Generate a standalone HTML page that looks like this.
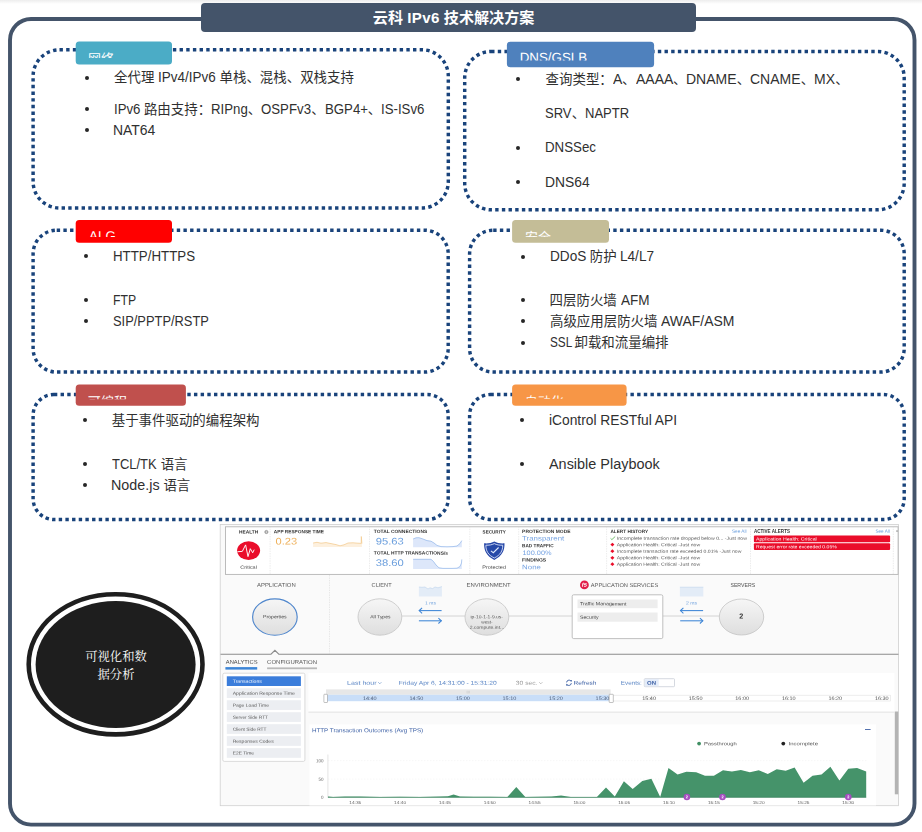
<!DOCTYPE html>
<html lang="zh">
<head>
<meta charset="utf-8">
<title>云科 IPv6 技术解决方案</title>
<style>
html,body{margin:0;padding:0;background:#fff;}
body{width:922px;height:832px;overflow:hidden;position:relative;font-family:"Liberation Sans","Noto Sans CJK SC",sans-serif;}
#page{position:absolute;left:0;top:0;width:922px;height:832px;overflow:hidden;background:#fff;}
#topshade{position:absolute;left:0;top:0;width:922px;height:4px;background:linear-gradient(#ededed,#fff);}
svg.shapes{position:absolute;left:0;top:0;}
#title{position:absolute;left:201.2px;top:3.2px;width:494.5px;height:29.1px;background:#44546a;border-radius:4px;color:#fff;font-weight:bold;font-size:15.1px;line-height:28.8px;white-space:pre;}
#title span{position:absolute;left:171.6px;top:0.6px;}
#title em{font-style:normal;letter-spacing:0.35px;}
.t{position:absolute;white-space:pre;font-size:13.45px;line-height:20px;height:20px;color:#303030;}
.bu{position:absolute;width:4px;height:4px;border-radius:50%;background:#262626;}
.t span.sx{display:inline-block;transform-origin:0 50%;font-size:14px;line-height:0;}
#oval{position:absolute;left:36px;top:601px;width:160px;height:127px;color:#fff;font-family:"Liberation Serif","Noto Serif CJK SC",serif;font-size:12.3px;line-height:18.2px;text-align:center;}
</style>
</head>
<body>
<div id="page">
<div id="topshade"></div>
<svg class="shapes" width="922" height="832" viewBox="0 0 922 832">
  <rect x="10" y="19" width="904.5" height="805.6" rx="21" ry="21" fill="none" stroke="#44546a" stroke-width="3.9"/>
  <g fill="none" stroke="#19437b" stroke-width="3.45" stroke-dasharray="3.4 3.27">
    <rect x="33.1" y="49.8" width="415.2" height="158.2" rx="26.4" ry="26.4"/>
    <rect x="464.7" y="51.5" width="439.5" height="158.3" rx="26.4" ry="26.4"/>
    <rect x="33.1" y="230.2" width="415.1" height="141.9" rx="23.6" ry="23.6"/>
    <rect x="469.6" y="230.2" width="434.6" height="141.9" rx="23.6" ry="23.6"/>
    <rect x="33.1" y="394.5" width="415.1" height="125" rx="20.8" ry="20.8"/>
    <rect x="469.6" y="394.5" width="434.6" height="125" rx="20.8" ry="20.8"/>
  </g>
  <ellipse cx="115.6" cy="664.3" rx="86.9" ry="70.1" fill="#fff" stroke="#1e1e1e" stroke-width="4.6"/>
  <ellipse cx="115.6" cy="664.5" rx="80" ry="63.4" fill="#1e1e1e"/>
</svg>
<div id="title"><span>云科 <em>IPv6</em> 技术解决方案</span></div>

<svg class="shapes" id="labs" width="922" height="832" viewBox="0 0 922 832" font-family='"Liberation Sans","Noto Sans CJK SC",sans-serif'>
<defs>
<clipPath id="lc0"><rect x="75.7" y="41.6" width="96.3" height="16.40"/></clipPath>
<clipPath id="lc1"><rect x="506.9" y="41.7" width="147.2" height="18.90"/></clipPath>
<clipPath id="lc2"><rect x="75.7" y="220.1" width="96.3" height="16.80"/></clipPath>
<clipPath id="lc3"><rect x="512.1" y="220.1" width="96.9" height="16.90"/></clipPath>
<clipPath id="lc4"><rect x="75.7" y="384.6" width="110.2" height="14.60"/></clipPath>
<clipPath id="lc5"><rect x="512.1" y="384.6" width="114.5" height="14.20"/></clipPath>
</defs>
<rect x="75.7" y="41.6" width="96.3" height="23.0" rx="3.5" fill="#4bacc6"/>
<g clip-path="url(#lc0)"><text x="88.03" y="63.30" font-size="13.0" fill="#fff" transform="matrix(1 0.0005 0 1 0 -0.044)">网络</text></g>
<rect x="506.9" y="41.7" width="147.2" height="25.5" rx="3.5" fill="#4f81bd"/>
<g clip-path="url(#lc1)"><text x="519.73" y="62.05" font-size="13.33" fill="#fff" transform="matrix(1 0.0005 0 1 0 -0.260)">DNS/GSLB</text></g>
<rect x="75.7" y="220.1" width="96.3" height="22.7" rx="3.5" fill="#ff0000"/>
<g clip-path="url(#lc2)"><text x="89.13" y="240.45" font-size="13.33" fill="#fff" transform="matrix(1 0.0005 0 1 0 -0.045)">ALG</text></g>
<rect x="512.1" y="220.1" width="96.9" height="22.7" rx="3.5" fill="#c4bd97"/>
<g clip-path="url(#lc3)"><text x="525.09" y="241.80" font-size="13.0" fill="#fff" transform="matrix(1 0.0005 0 1 0 -0.263)">安全</text></g>
<rect x="75.7" y="384.6" width="110.2" height="21.2" rx="3.5" fill="#c0504d"/>
<g clip-path="url(#lc4)"><text x="87.88" y="406.30" font-size="13.0" fill="#fff" transform="matrix(1 0.0005 0 1 0 -0.044)">可编程</text></g>
<rect x="512.1" y="384.6" width="114.5" height="21.2" rx="3.5" fill="#f79646"/>
<g clip-path="url(#lc5)"><text x="524.86" y="406.30" font-size="13.0" fill="#fff" transform="matrix(1 0.0005 0 1 0 -0.262)">自动化</text></g>
</svg>

<span class="bu" style="left:84.5px;top:75.5px"></span><div class="t" style="left:114.05px;top:68.00px;">全代理 <span class="sx" style="transform:scaleX(0.9626);margin-right:-2.24px">IPv4/IPv6</span> 单栈、混栈、双栈支持</div>
<span class="bu" style="left:84.5px;top:107.0px"></span><div class="t" style="left:113.70px;top:100.00px;"><span class="sx" style="transform:scaleX(0.9448);margin-right:-1.55px">IPv6</span> 路由支持：<span class="sx" style="transform:scaleX(0.9448);margin-right:-2.15px">RIPng</span>、<span class="sx" style="transform:scaleX(0.9448);margin-right:-2.92px">OSPFv3</span>、<span class="sx" style="transform:scaleX(0.9448);margin-right:-2.51px">BGP4+</span>、<span class="sx" style="transform:scaleX(0.9448);margin-right:-2.53px">IS-ISv6</span></div>
<span class="bu" style="left:84.5px;top:128.0px"></span><div class="t" style="left:113.41px;top:121.00px;"><span class="sx" style="transform:scaleX(0.9962);margin-right:-0.16px">NAT64</span></div>
<span class="bu" style="left:515.5px;top:77.0px"></span><div class="t" style="left:545.57px;top:70.00px;">查询类型：<span class="sx" style="transform:scaleX(0.9986);margin-right:-0.01px">A</span>、<span class="sx" style="transform:scaleX(0.9986);margin-right:-0.05px">AAAA</span>、<span class="sx" style="transform:scaleX(0.9986);margin-right:-0.07px">DNAME</span>、<span class="sx" style="transform:scaleX(0.9986);margin-right:-0.07px">CNAME</span>、<span class="sx" style="transform:scaleX(0.9986);margin-right:-0.03px">MX</span>、</div>
<div class="t" style="left:545.17px;top:104.00px;"><span class="sx" style="transform:scaleX(0.9304);margin-right:-1.99px">SRV</span>、<span class="sx" style="transform:scaleX(0.9304);margin-right:-3.30px">NAPTR</span></div>
<span class="bu" style="left:515.5px;top:145.5px"></span><div class="t" style="left:544.54px;top:138.00px;"><span class="sx" style="transform:scaleX(0.9494);margin-right:-2.72px">DNSSec</span></div>
<span class="bu" style="left:515.5px;top:180.0px"></span><div class="t" style="left:544.51px;top:173.00px;"><span class="sx" style="transform:scaleX(0.9888);margin-right:-0.51px">DNS64</span></div>
<span class="bu" style="left:83.5px;top:254.0px"></span><div class="t" style="left:112.76px;top:247.00px;"><span class="sx" style="transform:scaleX(0.9502);margin-right:-4.30px">HTTP/HTTPS</span></div>
<span class="bu" style="left:83.5px;top:298.0px"></span><div class="t" style="left:112.94px;top:291.00px;"><span class="sx" style="transform:scaleX(0.8748);margin-right:-3.31px">FTP</span></div>
<span class="bu" style="left:83.5px;top:319.0px"></span><div class="t" style="left:112.77px;top:312.00px;"><span class="sx" style="transform:scaleX(0.9198);margin-right:-8.36px">SIP/PPTP/RSTP</span></div>
<span class="bu" style="left:520.5px;top:254.5px"></span><div class="t" style="left:549.73px;top:247.00px;"><span class="sx" style="transform:scaleX(0.9712);margin-right:-1.07px">DDoS</span> 防护 <span class="sx" style="transform:scaleX(0.9712);margin-right:-1.01px">L4/L7</span></div>
<span class="bu" style="left:520.5px;top:298.0px"></span><div class="t" style="left:549.59px;top:291.00px;">四层防火墙 <span class="sx" style="transform:scaleX(0.9676);margin-right:-0.96px">AFM</span></div>
<span class="bu" style="left:520.5px;top:319.0px"></span><div class="t" style="left:549.96px;top:312.00px;">高级应用层防火墙 <span class="sx" style="transform:scaleX(0.9975);margin-right:-0.19px">AWAF/ASM</span></div>
<span class="bu" style="left:520.5px;top:340.5px"></span><div class="t" style="left:549.93px;top:333.00px;word-spacing:-1.4px;"><span class="sx" style="transform:scaleX(0.8397);margin-right:-4.24px">SSL</span> 卸载和流量编排</div>
<span class="bu" style="left:82.5px;top:417.5px"></span><div class="t" style="left:111.73px;top:411.00px;">基于事件驱动的编程架构</div>
<span class="bu" style="left:82.5px;top:462.0px"></span><div class="t" style="left:112.30px;top:455.00px;"><span class="sx" style="transform:scaleX(0.9257);margin-right:-3.58px">TCL/TK</span> 语言</div>
<span class="bu" style="left:82.5px;top:482.5px"></span><div class="t" style="left:111.10px;top:476.00px;"><span class="sx" style="transform:scaleX(1.0234);margin-right:1.11px">Node.js</span> 语言</div>
<span class="bu" style="left:519.5px;top:418.0px"></span><div class="t" style="left:549.41px;top:411.00px;"><span class="sx" style="transform:scaleX(0.9850);margin-right:-1.95px">iControl RESTful API</span></div>
<span class="bu" style="left:519.5px;top:462.0px"></span><div class="t" style="left:548.80px;top:455.00px;"><span class="sx" style="transform:scaleX(1.0304);margin-right:3.27px">Ansible Playbook</span></div>

<div id="oval"><div style="position:absolute;left:0;right:0;top:46.5px">可视化和数<br>据分析</div></div>

<svg id="dash" class="shapes" width="922" height="832" viewBox="0 0 922 832" font-family='"Liberation Sans","DejaVu Sans",sans-serif'>
<defs>
<filter id="bl" x="-2%" y="-2%" width="104%" height="104%"><feGaussianBlur stdDeviation="0.32"/></filter>
<linearGradient id="eg" x1="0" y1="0" x2="0" y2="1"><stop offset="0" stop-color="#f6f6f6"/><stop offset="1" stop-color="#dedede"/></linearGradient>
<clipPath id="dc"><rect x="219.7" y="524" width="679.3" height="282.2"/></clipPath>
</defs>
<g clip-path="url(#dc)"><g filter="url(#bl)">
<rect x="220.2" y="524.5" width="678.3" height="281.2" fill="#fafafa" stroke="#d0d0d0" stroke-width="0.8"/>
<rect x="225.5" y="526.8" width="672.6" height="47.6" fill="#fff" stroke="#b4b4b4" stroke-width="0.9"/>
<line x1="270.1" y1="527.5" x2="270.1" y2="574" stroke="#d9d9d9" stroke-width="0.7" stroke-dasharray="0.7 1"/>
<line x1="369.5" y1="527.5" x2="369.5" y2="574" stroke="#d9d9d9" stroke-width="0.7" stroke-dasharray="0.7 1"/>
<line x1="469.8" y1="527.5" x2="469.8" y2="574" stroke="#d9d9d9" stroke-width="0.7" stroke-dasharray="0.7 1"/>
<line x1="518.7" y1="527.5" x2="518.7" y2="574" stroke="#d9d9d9" stroke-width="0.7" stroke-dasharray="0.7 1"/>
<line x1="606.6" y1="527.5" x2="606.6" y2="574" stroke="#d9d9d9" stroke-width="0.7" stroke-dasharray="0.7 1"/>
<line x1="750.5" y1="527.5" x2="750.5" y2="574" stroke="#d9d9d9" stroke-width="0.7" stroke-dasharray="0.7 1"/>
<line x1="893.3" y1="527.5" x2="893.3" y2="574" stroke="#d9d9d9" stroke-width="0.7" stroke-dasharray="0.7 1"/>
<text x="239.0" y="533.40" font-size="4.7" fill="#333" font-weight="bold" text-anchor="start" textLength="19.2" lengthAdjust="spacingAndGlyphs" transform="matrix(1 0.0005 0 1 0 -0.120)">HEALTH</text>
<circle cx="266.4" cy="532" r="1.6" fill="#b5b5b5" stroke="#8a8a8a" stroke-width="0.7"/><circle cx="266.4" cy="532" r="0.6" fill="#f3f3f3"/>
<ellipse cx="248.6" cy="550.6" rx="11.5" ry="9.3" fill="#ea0c2a"/>
<polyline points="237.8,551.7 242.3,551.4 245.6,544.9 248,556.6 250.3,548.7 252.7,552.8 254,550" fill="none" stroke="#fff" stroke-width="1" stroke-linejoin="round" stroke-linecap="round" opacity="0.95"/>
<text x="240.2" y="568.86" font-size="4.6" fill="#444" font-weight="normal" text-anchor="start" textLength="16.7" lengthAdjust="spacingAndGlyphs" transform="matrix(1 0.0005 0 1 0 -0.120)">Critical</text>
<text x="273.8" y="533.30" font-size="4.7" fill="#333" font-weight="bold" text-anchor="start" textLength="50.2" lengthAdjust="spacingAndGlyphs" transform="matrix(1 0.0005 0 1 0 -0.137)">APP RESPONSE TIME</text>
<text x="275.6" y="544.44" font-size="9.6" fill="#eeb05a" font-weight="normal" text-anchor="start" textLength="21.6" lengthAdjust="spacingAndGlyphs" transform="matrix(1 0.0005 0 1 0 -0.138)">0.23</text>
<path d="M313.1,543 L317,542.3 L321,543.2 L326,542.6 L331,543.6 L336,544.6 L340,545.8 L344,544.8 L348,543 L353,542.8 L358,543.2 L361.2,543.4 L361.3,536.5 L361.9,543.6 L361.9,547 L313.1,547 Z" fill="#fdf0de"/>
<polyline points="313.1,543 317,542.3 321,543.2 326,542.6 331,543.6 336,544.6 340,545.8 344,544.8 348,543 353,542.8 358,543.2 361.2,543.4 361.3,536.5 361.9,543.6" fill="none" stroke="#f2c788" stroke-width="0.7"/>
<text x="373.8" y="533.10" font-size="4.7" fill="#333" font-weight="bold" text-anchor="start" textLength="53.4" lengthAdjust="spacingAndGlyphs" transform="matrix(1 0.0005 0 1 0 -0.187)">TOTAL CONNECTIONS</text>
<text x="375.7" y="544.44" font-size="9.6" fill="#6a9edd" font-weight="normal" text-anchor="start" textLength="28.1" lengthAdjust="spacingAndGlyphs" transform="matrix(1 0.0005 0 1 0 -0.188)">95.63</text>
<text x="373.8" y="554.60" font-size="4.7" fill="#333" font-weight="bold" text-anchor="start" textLength="74.2" lengthAdjust="spacingAndGlyphs" transform="matrix(1 0.0005 0 1 0 -0.187)">TOTAL HTTP TRANSACTIONS/s</text>
<text x="375.7" y="565.94" font-size="9.6" fill="#6a9edd" font-weight="normal" text-anchor="start" textLength="28.1" lengthAdjust="spacingAndGlyphs" transform="matrix(1 0.0005 0 1 0 -0.188)">38.60</text>
<path d="M413.1,539 L416,537.8 L419,537.7 L423,539 L427,540.6 L431,541.2 L434,543 L437,545.4 L441,546.6 L447,546.8 L453,546.6 L457,546 L460,543.5 L461.8,540.6 L461.8,547.2 L413.1,547.2 Z" fill="#dde7fa"/>
<polyline points="413.1,539 416,537.8 419,537.7 423,539 427,540.6 431,541.2 434,543 437,545.4 441,546.6 447,546.8 453,546.6 457,546 460,543.5 461.8,540.6" fill="none" stroke="#8fb4ea" stroke-width="0.7"/>
<path d="M413.1,559.3 L431,559.3 L433.5,561.5 L436,565 L439,567.8 L443,568.4 L452,568.4 L457,568.2 L460,566.5 L461.5,563 L461.8,559.4 L461.8,568.9 L413.1,568.9 Z" fill="#dde7fa"/>
<polyline points="413.1,559.3 431,559.3 433.5,561.5 436,565 439,567.8 443,568.4 452,568.4 457,568.2 460,566.5 461.5,563 461.8,559.4" fill="none" stroke="#8fb4ea" stroke-width="0.7"/>
<text x="482.6" y="533.40" font-size="4.7" fill="#333" font-weight="bold" text-anchor="start" textLength="23.2" lengthAdjust="spacingAndGlyphs" transform="matrix(1 0.0005 0 1 0 -0.241)">SECURITY</text>
<path d="M494.3,541.5 C491.5,543.2 487.5,543.6 484.1,543.3 C483.8,550.5 486.5,556 494.3,559.9 C502.1,556 504.8,550.5 504.5,543.3 C501.1,543.6 497.1,543.2 494.3,541.5 Z" fill="#2848a8"/>
<path d="M494.3,543.6 C491.9,544.9 488.7,545.4 485.9,545.2 C485.8,550.9 488.2,555 494.3,558 C500.4,555 502.8,550.9 502.7,545.2 C499.9,545.4 496.7,544.9 494.3,543.6 Z" fill="none" stroke="#dfe9fb" stroke-width="0.85"/>
<polyline points="490.9,550.9 493.3,552.7 498.6,547.5" fill="none" stroke="#dfeafc" stroke-width="1.1"/>
<text x="482.3" y="568.86" font-size="4.6" fill="#444" font-weight="normal" text-anchor="start" textLength="23.7" lengthAdjust="spacingAndGlyphs" transform="matrix(1 0.0005 0 1 0 -0.241)">Protected</text>
<text x="522.1" y="533.10" font-size="4.7" fill="#333" font-weight="bold" text-anchor="start" textLength="48.4" lengthAdjust="spacingAndGlyphs" transform="matrix(1 0.0005 0 1 0 -0.261)">PROTECTION MODE</text>
<text x="522.1" y="540.55" font-size="6.5" fill="#76a3e2" font-weight="normal" text-anchor="start" textLength="42.1" lengthAdjust="spacingAndGlyphs" transform="matrix(1 0.0005 0 1 0 -0.261)">Transparent</text>
<text x="522.1" y="547.30" font-size="4.7" fill="#333" font-weight="bold" text-anchor="start" textLength="31.5" lengthAdjust="spacingAndGlyphs" transform="matrix(1 0.0005 0 1 0 -0.261)">BAD TRAFFIC</text>
<text x="522.5" y="554.89" font-size="6.4" fill="#76a3e2" font-weight="normal" text-anchor="start" textLength="29.0" lengthAdjust="spacingAndGlyphs" transform="matrix(1 0.0005 0 1 0 -0.261)">100.00%</text>
<text x="522.1" y="561.60" font-size="4.7" fill="#333" font-weight="bold" text-anchor="start" textLength="24.1" lengthAdjust="spacingAndGlyphs" transform="matrix(1 0.0005 0 1 0 -0.261)">FINDINGS</text>
<text x="522.1" y="569.21" font-size="6.5" fill="#76a3e2" font-weight="normal" text-anchor="start" textLength="18.8" lengthAdjust="spacingAndGlyphs" transform="matrix(1 0.0005 0 1 0 -0.261)">None</text>
<text x="610.4" y="532.90" font-size="4.7" fill="#333" font-weight="bold" text-anchor="start" textLength="37.8" lengthAdjust="spacingAndGlyphs" transform="matrix(1 0.0005 0 1 0 -0.305)">ALERT HISTORY</text>
<text x="731.9" y="532.76" font-size="4.6" fill="#6a9edd" font-weight="normal" text-anchor="start" textLength="14.7" lengthAdjust="spacingAndGlyphs" transform="matrix(1 0.0005 0 1 0 -0.366)">See All</text>
<polyline points="610.6,538.4 611.9,539.6 615.2,536.5" fill="none" stroke="#53b14d" stroke-width="0.8"/>
<text x="616.8" y="539.63" font-size="4.5" fill="#555" font-weight="normal" text-anchor="start" textLength="130.2" lengthAdjust="spacingAndGlyphs" transform="matrix(1 0.0005 0 1 0 -0.308)">Incomplete transaction rate dropped below 0... -Just now</text>
<path d="M612.4,542.7 L614.4,544.6 L612.4,546.5 L610.4,544.6 Z" fill="#ea0c2a"/>
<text x="616.8" y="546.13" font-size="4.5" fill="#555" font-weight="normal" text-anchor="start" textLength="83.3" lengthAdjust="spacingAndGlyphs" transform="matrix(1 0.0005 0 1 0 -0.308)">Application Health: Critical -Just now</text>
<path d="M612.4,549.3000000000001 L614.4,551.2 L612.4,553.1 L610.4,551.2 Z" fill="#ea0c2a"/>
<text x="616.8" y="552.73" font-size="4.5" fill="#555" font-weight="normal" text-anchor="start" textLength="124.6" lengthAdjust="spacingAndGlyphs" transform="matrix(1 0.0005 0 1 0 -0.308)">Incomplete transaction rate exceeded 0.01% -Just now</text>
<path d="M612.4,555.9 L614.4,557.8 L612.4,559.6999999999999 L610.4,557.8 Z" fill="#ea0c2a"/>
<text x="616.8" y="559.33" font-size="4.5" fill="#555" font-weight="normal" text-anchor="start" textLength="83.3" lengthAdjust="spacingAndGlyphs" transform="matrix(1 0.0005 0 1 0 -0.308)">Application Health: Critical -Just now</text>
<path d="M612.4,562.3000000000001 L614.4,564.2 L612.4,566.1 L610.4,564.2 Z" fill="#ea0c2a"/>
<text x="616.8" y="565.73" font-size="4.5" fill="#555" font-weight="normal" text-anchor="start" textLength="83.3" lengthAdjust="spacingAndGlyphs" transform="matrix(1 0.0005 0 1 0 -0.308)">Application Health: Critical -Just now</text>
<text x="753.9" y="532.90" font-size="4.7" fill="#333" font-weight="bold" text-anchor="start" textLength="36.1" lengthAdjust="spacingAndGlyphs" transform="matrix(1 0.0005 0 1 0 -0.377)">ACTIVE ALERTS</text>
<text x="875.4" y="532.76" font-size="4.6" fill="#6a9edd" font-weight="normal" text-anchor="start" textLength="14.4" lengthAdjust="spacingAndGlyphs" transform="matrix(1 0.0005 0 1 0 -0.438)">See All</text>
<rect x="753.9" y="535.5" width="136.2" height="6.8" rx="1" fill="#ea0c2a"/>
<rect x="753.9" y="543.3" width="136.2" height="6.6" rx="1" fill="#ea0c2a"/>
<text x="756.0" y="540.53" font-size="4.5" fill="#fff" font-weight="normal" text-anchor="start" textLength="60.7" lengthAdjust="spacingAndGlyphs" transform="matrix(1 0.0005 0 1 0 -0.378)">Application Health: Critical</text>
<text x="756.0" y="548.23" font-size="4.5" fill="#fff" font-weight="normal" text-anchor="start" textLength="80.8" lengthAdjust="spacingAndGlyphs" transform="matrix(1 0.0005 0 1 0 -0.378)">Request error rate exceeded 0.05%</text>
<path d="M896,531.6 L897,530 L898,531.6 Z" fill="#777"/>
<line x1="329.5" y1="575" x2="329.5" y2="653.5" stroke="#d6d6d6" stroke-width="0.7" stroke-dasharray="0.7 1"/>
<text x="257.0" y="586.73" font-size="5.4" fill="#555" font-weight="normal" text-anchor="start" textLength="38.7" lengthAdjust="spacingAndGlyphs" transform="matrix(1 0.0005 0 1 0 -0.129)">APPLICATION</text>
<text x="371.6" y="586.73" font-size="5.4" fill="#555" font-weight="normal" text-anchor="start" textLength="20.0" lengthAdjust="spacingAndGlyphs" transform="matrix(1 0.0005 0 1 0 -0.186)">CLIENT</text>
<text x="466.5" y="586.73" font-size="5.4" fill="#555" font-weight="normal" text-anchor="start" textLength="44.2" lengthAdjust="spacingAndGlyphs" transform="matrix(1 0.0005 0 1 0 -0.233)">ENVIRONMENT</text>
<text x="590.8" y="586.93" font-size="5.4" fill="#555" font-weight="normal" text-anchor="start" textLength="67.4" lengthAdjust="spacingAndGlyphs" transform="matrix(1 0.0005 0 1 0 -0.295)">APPLICATION SERVICES</text>
<text x="730.4" y="586.73" font-size="5.4" fill="#555" font-weight="normal" text-anchor="start" textLength="24.9" lengthAdjust="spacingAndGlyphs" transform="matrix(1 0.0005 0 1 0 -0.365)">SERVERS</text>
<line x1="402" y1="616" x2="465" y2="616" stroke="#cfcfcf" stroke-width="0.9"/>
<line x1="509" y1="616" x2="572" y2="616" stroke="#cfcfcf" stroke-width="0.9"/>
<line x1="662.8" y1="616" x2="719.2" y2="616" stroke="#cfcfcf" stroke-width="0.9"/>
<ellipse cx="274.9" cy="617" rx="22.3" ry="18.2" fill="url(#eg)" stroke="#4f86cc" stroke-width="1.15"/>
<ellipse cx="379.9" cy="617" rx="21.9" ry="18.2" fill="url(#eg)" stroke="#c4c4c4" stroke-width="0.8"/>
<ellipse cx="486.9" cy="617" rx="21.9" ry="18.2" fill="url(#eg)" stroke="#c4c4c4" stroke-width="0.8"/>
<ellipse cx="741.5" cy="617" rx="22.2" ry="18" fill="url(#eg)" stroke="#c4c4c4" stroke-width="0.8"/>
<text x="263.0" y="618.13" font-size="4.5" fill="#444" font-weight="normal" text-anchor="start" textLength="23.7" lengthAdjust="spacingAndGlyphs" transform="matrix(1 0.0005 0 1 0 -0.132)">Properties</text>
<text x="370.3" y="618.23" font-size="4.5" fill="#444" font-weight="normal" text-anchor="start" textLength="20.1" lengthAdjust="spacingAndGlyphs" transform="matrix(1 0.0005 0 1 0 -0.185)">All Types</text>
<text x="470.5" y="618.36" font-size="4.3" fill="#555" font-weight="normal" text-anchor="start" textLength="32.5" lengthAdjust="spacingAndGlyphs" transform="matrix(1 0.0005 0 1 0 -0.235)">ip-10-1-1-9.us-</text>
<text x="481.2" y="623.56" font-size="4.3" fill="#555" font-weight="normal" text-anchor="start" textLength="11.4" lengthAdjust="spacingAndGlyphs" transform="matrix(1 0.0005 0 1 0 -0.241)">west-</text>
<text x="469.8" y="628.76" font-size="4.3" fill="#555" font-weight="normal" text-anchor="start" textLength="34.5" lengthAdjust="spacingAndGlyphs" transform="matrix(1 0.0005 0 1 0 -0.235)">2.compute.int...</text>
<text x="741.3" y="618.60" font-size="7.2" fill="#333" font-weight="bold" text-anchor="middle" transform="matrix(1 0.0005 0 1 0 -0.371)">2</text>
<path d="M418.9,587 L422,587.3 L425,587 L428,589 L430,587.8 L432.5,588.6 L435,587 L438,587.8 L441.9,586.6 L441.9,596.5 L418.9,596.5 Z" fill="#e3ecf7"/>
<polyline points="418.9,587 422,587.3 425,587 428,589 430,587.8 432.5,588.6 435,587 438,587.8 441.9,586.6" fill="none" stroke="#bdd3ec" stroke-width="0.6"/>
<rect x="679.9" y="587.2" width="23.4" height="9.3" fill="#e3ecf7"/><line x1="679.9" y1="587.2" x2="703.3" y2="587.2" stroke="#bdd3ec" stroke-width="0.6"/>
<text x="425.1" y="604.53" font-size="4.5" fill="#6a9edd" font-weight="normal" text-anchor="start" textLength="10.8" lengthAdjust="spacingAndGlyphs" transform="matrix(1 0.0005 0 1 0 -0.213)">1 ms</text>
<text x="685.9" y="604.53" font-size="4.5" fill="#6a9edd" font-weight="normal" text-anchor="start" textLength="11.1" lengthAdjust="spacingAndGlyphs" transform="matrix(1 0.0005 0 1 0 -0.343)">2 ms</text>
<g fill="none" stroke="#3d85d6" stroke-width="1.05"><line x1="418.9" y1="610.6" x2="441.6" y2="610.6"/><polyline points="422.09999999999997,607.9 419.2,610.6 422.09999999999997,613.3"/><line x1="418.9" y1="620.8" x2="441.6" y2="620.8"/><polyline points="438.40000000000003,618.1 441.3,620.8 438.40000000000003,623.5"/></g>
<g fill="none" stroke="#3d85d6" stroke-width="1.05"><line x1="680.2" y1="610.6" x2="703.1" y2="610.6"/><polyline points="683.4000000000001,607.9 680.5,610.6 683.4000000000001,613.3"/><line x1="680.2" y1="620.8" x2="703.1" y2="620.8"/><polyline points="699.9,618.1 702.8000000000001,620.8 699.9,623.5"/></g>
<circle cx="584.4" cy="584.9" r="4.4" fill="#e21d48"/>
<text x="584.3" y="586.80" font-size="5.6" fill="#fff" font-weight="bold" text-anchor="middle" font-style="italic" transform="matrix(1 0.0005 0 1 0 -0.292)">f5</text>
<rect x="572.2" y="594.8" width="90.6" height="43.8" rx="1.5" fill="#fff" stroke="#b9b9b9" stroke-width="0.9"/>
<rect x="577.5" y="599.5" width="80.1" height="8.7" fill="#ededed"/>
<rect x="577.5" y="612.5" width="80.1" height="9.2" fill="#ededed"/>
<text x="580.1" y="605.36" font-size="4.6" fill="#444" font-weight="normal" text-anchor="start" textLength="46.3" lengthAdjust="spacingAndGlyphs" transform="matrix(1 0.0005 0 1 0 -0.290)">Traffic Management</text>
<text x="580.1" y="618.76" font-size="4.6" fill="#444" font-weight="normal" text-anchor="start" textLength="18.5" lengthAdjust="spacingAndGlyphs" transform="matrix(1 0.0005 0 1 0 -0.290)">Security</text>
<path d="M220.5,654.2 L271,654.2 L274.9,650.3 L278.8,654.2 L898.5,654.2" fill="none" stroke="#8c8c8c" stroke-width="1.1"/>
<text x="225.8" y="663.87" font-size="5.5" fill="#444" font-weight="normal" text-anchor="start" textLength="31.7" lengthAdjust="spacingAndGlyphs" transform="matrix(1 0.0005 0 1 0 -0.113)">ANALYTICS</text>
<text x="267.1" y="663.87" font-size="5.5" fill="#555" font-weight="normal" text-anchor="start" textLength="49.9" lengthAdjust="spacingAndGlyphs" transform="matrix(1 0.0005 0 1 0 -0.134)">CONFIGURATION</text>
<rect x="225.4" y="667.1" width="31.8" height="2.5" fill="#3d85d6"/>
<rect x="267.1" y="667.4" width="49.9" height="1.8" fill="#b9b9b9"/>
<rect x="222.8" y="673.2" width="82.1" height="88.2" rx="1.5" fill="#fff" stroke="#d2d2d2" stroke-width="0.8"/>
<rect x="226.8" y="676.30" width="74.1" height="9.7" fill="#3b7ddb"/>
<text x="232.7" y="682.80" font-size="4.4" fill="#fff" font-weight="normal" text-anchor="start" textLength="29.2" lengthAdjust="spacingAndGlyphs" transform="matrix(1 0.0005 0 1 0 -0.116)">Transactions</text>
<rect x="226.8" y="688.27" width="74.1" height="9.7" fill="#eceef2"/>
<text x="232.7" y="694.77" font-size="4.4" fill="#555" font-weight="normal" text-anchor="start" textLength="62.1" lengthAdjust="spacingAndGlyphs" transform="matrix(1 0.0005 0 1 0 -0.116)">Application Response Time</text>
<rect x="226.8" y="700.24" width="74.1" height="9.7" fill="#eceef2"/>
<text x="232.7" y="706.74" font-size="4.4" fill="#555" font-weight="normal" text-anchor="start" textLength="36.3" lengthAdjust="spacingAndGlyphs" transform="matrix(1 0.0005 0 1 0 -0.116)">Page Load Time</text>
<rect x="226.8" y="712.21" width="74.1" height="9.7" fill="#eceef2"/>
<text x="232.7" y="718.71" font-size="4.4" fill="#555" font-weight="normal" text-anchor="start" textLength="35.3" lengthAdjust="spacingAndGlyphs" transform="matrix(1 0.0005 0 1 0 -0.116)">Server Side RTT</text>
<rect x="226.8" y="724.18" width="74.1" height="9.7" fill="#eceef2"/>
<text x="232.7" y="730.68" font-size="4.4" fill="#555" font-weight="normal" text-anchor="start" textLength="33.8" lengthAdjust="spacingAndGlyphs" transform="matrix(1 0.0005 0 1 0 -0.116)">Client Side RTT</text>
<rect x="226.8" y="736.15" width="74.1" height="9.7" fill="#eceef2"/>
<text x="232.7" y="742.65" font-size="4.4" fill="#555" font-weight="normal" text-anchor="start" textLength="41.0" lengthAdjust="spacingAndGlyphs" transform="matrix(1 0.0005 0 1 0 -0.116)">Responses Codes</text>
<rect x="226.8" y="748.12" width="74.1" height="9.7" fill="#eceef2"/>
<text x="232.7" y="754.62" font-size="4.4" fill="#555" font-weight="normal" text-anchor="start" textLength="21.3" lengthAdjust="spacingAndGlyphs" transform="matrix(1 0.0005 0 1 0 -0.116)">E2E Time</text>
<rect x="308.4" y="672.9" width="586" height="39.2" fill="#fff"/><line x1="308.4" y1="712.1" x2="894.4" y2="712.1" stroke="#dcdcdc" stroke-width="0.8"/>
<text x="347.1" y="684.70" font-size="5.6" fill="#5b86c5" font-weight="normal" text-anchor="start" textLength="29.4" lengthAdjust="spacingAndGlyphs" transform="matrix(1 0.0005 0 1 0 -0.174)">Last hour</text>
<polyline points="378.2,682.2 379.8,683.8 381.4,682.2" fill="none" stroke="#5b86c5" stroke-width="0.6"/>
<text x="398.7" y="684.70" font-size="5.6" fill="#5b86c5" font-weight="normal" text-anchor="start" textLength="98.0" lengthAdjust="spacingAndGlyphs" transform="matrix(1 0.0005 0 1 0 -0.199)">Friday Apr 6, 14:31:00 - 15:31:20</text>
<text x="515.8" y="684.70" font-size="5.6" fill="#9a9a9a" font-weight="normal" text-anchor="start" textLength="21.7" lengthAdjust="spacingAndGlyphs" transform="matrix(1 0.0005 0 1 0 -0.258)">30 sec.</text>
<polyline points="539.2,682.2 540.8,683.8 542.4,682.2" fill="none" stroke="#9a9a9a" stroke-width="0.6"/>
<g fill="none" stroke="#3f62a6" stroke-width="1"><path d="M566.6,682.4 A2.4,2.4 0 0 1 570.8,681"/><path d="M571.3,683.2 A2.4,2.4 0 0 1 567.1,684.6"/></g>
<path d="M570,679.9 L571.9,680.1 L571.5,682 Z M567.9,685.7 L566,685.5 L566.4,683.6 Z" fill="#3f62a6"/>
<text x="573.6" y="684.70" font-size="5.6" fill="#3f62a6" font-weight="normal" text-anchor="start" textLength="22.9" lengthAdjust="spacingAndGlyphs" transform="matrix(1 0.0005 0 1 0 -0.287)">Refresh</text>
<text x="620.8" y="684.70" font-size="5.6" fill="#5b86c5" font-weight="normal" text-anchor="start" textLength="21.0" lengthAdjust="spacingAndGlyphs" transform="matrix(1 0.0005 0 1 0 -0.310)">Events:</text>
<rect x="644.3" y="678.7" width="30.2" height="8" rx="0.8" fill="#fff" stroke="#c3c9d3" stroke-width="0.7"/>
<rect x="644.7" y="679.1" width="14" height="7.2" fill="#e4ecf9"/>
<text x="647.0" y="684.70" font-size="5.3" fill="#3f62a6" font-weight="bold" text-anchor="start" textLength="9.0" lengthAdjust="spacingAndGlyphs" transform="matrix(1 0.0005 0 1 0 -0.324)">ON</text>
<rect x="326" y="689.4" width="284.6" height="5.4" fill="#e7e7e7"/>
<rect x="326" y="694.8" width="283" height="6.4" fill="#c9def8"/>
<rect x="609" y="695.2" width="281.5" height="5.8" fill="#fff" stroke="#e2e2e2" stroke-width="0.6"/>
<rect x="323.9" y="694.3" width="3.6" height="8.2" rx="0.5" fill="#fff" stroke="#9a9a9a" stroke-width="0.6"/>
<rect x="609.2" y="694.3" width="4.1" height="8.2" rx="0.5" fill="#fff" stroke="#9a9a9a" stroke-width="0.6"/>
<g stroke="#c4c4c4" stroke-width="0.5"><line x1="467" y1="690.8" x2="467" y2="693.4"/><line x1="468.2" y1="690.8" x2="468.2" y2="693.4"/><line x1="469.4" y1="690.8" x2="469.4" y2="693.4"/></g>
<text x="369.8" y="700.05" font-size="5.1" fill="#4d5f7d" font-weight="normal" text-anchor="middle" textLength="13.8" lengthAdjust="spacingAndGlyphs" transform="matrix(1 0.0005 0 1 0 -0.185)">14:40</text>
<text x="416.4" y="700.05" font-size="5.1" fill="#4d5f7d" font-weight="normal" text-anchor="middle" textLength="13.8" lengthAdjust="spacingAndGlyphs" transform="matrix(1 0.0005 0 1 0 -0.208)">14:50</text>
<text x="462.9" y="700.05" font-size="5.1" fill="#4d5f7d" font-weight="normal" text-anchor="middle" textLength="13.8" lengthAdjust="spacingAndGlyphs" transform="matrix(1 0.0005 0 1 0 -0.231)">15:00</text>
<text x="509.4" y="700.05" font-size="5.1" fill="#4d5f7d" font-weight="normal" text-anchor="middle" textLength="13.8" lengthAdjust="spacingAndGlyphs" transform="matrix(1 0.0005 0 1 0 -0.255)">15:10</text>
<text x="556.0" y="700.05" font-size="5.1" fill="#4d5f7d" font-weight="normal" text-anchor="middle" textLength="13.8" lengthAdjust="spacingAndGlyphs" transform="matrix(1 0.0005 0 1 0 -0.278)">15:20</text>
<text x="602.5" y="700.05" font-size="5.1" fill="#4d5f7d" font-weight="normal" text-anchor="middle" textLength="13.8" lengthAdjust="spacingAndGlyphs" transform="matrix(1 0.0005 0 1 0 -0.301)">15:30</text>
<text x="649.1" y="700.05" font-size="5.1" fill="#555" font-weight="normal" text-anchor="middle" textLength="13.8" lengthAdjust="spacingAndGlyphs" transform="matrix(1 0.0005 0 1 0 -0.325)">15:40</text>
<text x="695.6" y="700.05" font-size="5.1" fill="#555" font-weight="normal" text-anchor="middle" textLength="13.8" lengthAdjust="spacingAndGlyphs" transform="matrix(1 0.0005 0 1 0 -0.348)">15:50</text>
<text x="742.2" y="700.05" font-size="5.1" fill="#555" font-weight="normal" text-anchor="middle" textLength="13.8" lengthAdjust="spacingAndGlyphs" transform="matrix(1 0.0005 0 1 0 -0.371)">16:00</text>
<text x="788.8" y="700.05" font-size="5.1" fill="#555" font-weight="normal" text-anchor="middle" textLength="13.8" lengthAdjust="spacingAndGlyphs" transform="matrix(1 0.0005 0 1 0 -0.394)">16:10</text>
<text x="835.3" y="700.05" font-size="5.1" fill="#555" font-weight="normal" text-anchor="middle" textLength="13.8" lengthAdjust="spacingAndGlyphs" transform="matrix(1 0.0005 0 1 0 -0.418)">16:20</text>
<text x="881.8" y="700.05" font-size="5.1" fill="#555" font-weight="normal" text-anchor="middle" textLength="13.8" lengthAdjust="spacingAndGlyphs" transform="matrix(1 0.0005 0 1 0 -0.441)">16:30</text>
<rect x="309.4" y="724.4" width="566.6" height="81" fill="#fff"/>
<text x="311.9" y="732.21" font-size="5.7" fill="#3f62a6" font-weight="normal" text-anchor="start" textLength="111.3" lengthAdjust="spacingAndGlyphs" transform="matrix(1 0.0005 0 1 0 -0.156)">HTTP Transaction Outcomes (Avg TPS)</text>
<rect x="865" y="729" width="5.6" height="0.9" fill="#3f62a6"/>
<circle cx="699.1" cy="743.6" r="1.9" fill="#3f8f63"/>
<text x="703.9" y="745.16" font-size="4.6" fill="#555" font-weight="normal" text-anchor="start" textLength="32.9" lengthAdjust="spacingAndGlyphs" transform="matrix(1 0.0005 0 1 0 -0.352)">Passthrough</text>
<circle cx="783.3" cy="743.6" r="1.9" fill="#222"/>
<text x="788.6" y="745.16" font-size="4.6" fill="#555" font-weight="normal" text-anchor="start" textLength="29.4" lengthAdjust="spacingAndGlyphs" transform="matrix(1 0.0005 0 1 0 -0.394)">Incomplete</text>
<text x="323.6" y="762.20" font-size="4.5" fill="#666" font-weight="normal" text-anchor="end" transform="matrix(1 0.0005 0 1 0 -0.162)">100</text>
<text x="323.6" y="780.70" font-size="4.5" fill="#666" font-weight="normal" text-anchor="end" transform="matrix(1 0.0005 0 1 0 -0.162)">50</text>
<text x="323.6" y="798.80" font-size="4.5" fill="#666" font-weight="normal" text-anchor="end" transform="matrix(1 0.0005 0 1 0 -0.162)">0</text>
<line x1="328" y1="760.6" x2="868" y2="760.6" stroke="#f1f1f1" stroke-width="0.5" stroke-dasharray="1.5 1.5"/>
<line x1="328" y1="779.1" x2="868" y2="779.1" stroke="#f1f1f1" stroke-width="0.5" stroke-dasharray="1.5 1.5"/>
<line x1="327.9" y1="754.5" x2="327.9" y2="797.4" stroke="#d9d9d9" stroke-width="0.7"/>
<path d="M328,797.2 L328,796.5 L333,796.9 L345,796.6 L360,796.4 L380,796.9 L400,796.7 L420,796.9 L440,796.6 L448,796.2 L453.6,794.6 L460,796.4 L475,796.7 L490,796.8 L507.4,797 L516.3,787.1 L525.3,796.9 L551.6,796.6 L561.1,795.4 L570.7,796.9 L596.9,796.9 L606,787.5 L614.8,796.6 L623.9,781.3 L632.7,789 L642.3,781.1 L651.4,778.7 L660.2,796.9 L668.5,768 L677.6,774.4 L686.4,771.8 L696.2,772.3 L705,775.8 L713.9,775.8 L723,770.3 L732,771.5 L740.9,769.9 L749.9,772.3 L758.8,770.3 L767.8,773.9 L776.7,769.2 L785.7,770.8 L794.6,767.5 L803.6,782.8 L812.5,775.8 L821.5,774.4 L830.4,766.8 L839.4,780.6 L848.3,768.7 L857.1,768 L866.2,771.5 L866.2,797.4 L328,797.4 Z" fill="#44936a"/>
<line x1="327.9" y1="797.3" x2="866.2" y2="797.3" stroke="#3d7e5d" stroke-width="0.6"/>
<text x="355.3" y="804.00" font-size="4.3" fill="#666" font-weight="normal" text-anchor="middle" textLength="12.0" lengthAdjust="spacingAndGlyphs" transform="matrix(1 0.0005 0 1 0 -0.178)">14:35</text>
<text x="400.1" y="804.00" font-size="4.3" fill="#666" font-weight="normal" text-anchor="middle" textLength="12.0" lengthAdjust="spacingAndGlyphs" transform="matrix(1 0.0005 0 1 0 -0.200)">14:40</text>
<text x="444.9" y="804.00" font-size="4.3" fill="#666" font-weight="normal" text-anchor="middle" textLength="12.0" lengthAdjust="spacingAndGlyphs" transform="matrix(1 0.0005 0 1 0 -0.222)">14:45</text>
<text x="489.8" y="804.00" font-size="4.3" fill="#666" font-weight="normal" text-anchor="middle" textLength="12.0" lengthAdjust="spacingAndGlyphs" transform="matrix(1 0.0005 0 1 0 -0.245)">14:50</text>
<text x="534.6" y="804.00" font-size="4.3" fill="#666" font-weight="normal" text-anchor="middle" textLength="12.0" lengthAdjust="spacingAndGlyphs" transform="matrix(1 0.0005 0 1 0 -0.267)">14:55</text>
<text x="579.4" y="804.00" font-size="4.3" fill="#666" font-weight="normal" text-anchor="middle" textLength="12.0" lengthAdjust="spacingAndGlyphs" transform="matrix(1 0.0005 0 1 0 -0.290)">15:00</text>
<text x="624.2" y="804.00" font-size="4.3" fill="#666" font-weight="normal" text-anchor="middle" textLength="12.0" lengthAdjust="spacingAndGlyphs" transform="matrix(1 0.0005 0 1 0 -0.312)">15:05</text>
<text x="669.0" y="804.00" font-size="4.3" fill="#666" font-weight="normal" text-anchor="middle" textLength="12.0" lengthAdjust="spacingAndGlyphs" transform="matrix(1 0.0005 0 1 0 -0.335)">15:10</text>
<text x="713.9" y="804.00" font-size="4.3" fill="#666" font-weight="normal" text-anchor="middle" textLength="12.0" lengthAdjust="spacingAndGlyphs" transform="matrix(1 0.0005 0 1 0 -0.357)">15:15</text>
<text x="758.7" y="804.00" font-size="4.3" fill="#666" font-weight="normal" text-anchor="middle" textLength="12.0" lengthAdjust="spacingAndGlyphs" transform="matrix(1 0.0005 0 1 0 -0.379)">15:20</text>
<text x="803.5" y="804.00" font-size="4.3" fill="#666" font-weight="normal" text-anchor="middle" textLength="12.0" lengthAdjust="spacingAndGlyphs" transform="matrix(1 0.0005 0 1 0 -0.402)">15:25</text>
<text x="848.3" y="804.00" font-size="4.3" fill="#666" font-weight="normal" text-anchor="middle" textLength="12.0" lengthAdjust="spacingAndGlyphs" transform="matrix(1 0.0005 0 1 0 -0.424)">15:30</text>
<circle cx="686.9" cy="797" r="3.3" fill="#a64ec0"/>
<text x="686.9" y="798.30" font-size="3.8" fill="#fff" font-weight="bold" text-anchor="middle" transform="matrix(1 0.0005 0 1 0 -0.343)">2</text>
<circle cx="722.5" cy="797" r="3.3" fill="#a64ec0"/>
<text x="722.5" y="798.30" font-size="3.8" fill="#fff" font-weight="bold" text-anchor="middle" transform="matrix(1 0.0005 0 1 0 -0.361)">2</text>
<circle cx="848.3" cy="797" r="3.3" fill="#a64ec0"/>
<text x="848.3" y="798.30" font-size="3.8" fill="#fff" font-weight="bold" text-anchor="middle" transform="matrix(1 0.0005 0 1 0 -0.424)">2</text>
<rect x="894.8" y="711.5" width="3.5" height="82.8" fill="#b3b3b3"/>
</g></g></svg>
</div>
</body>
</html>
